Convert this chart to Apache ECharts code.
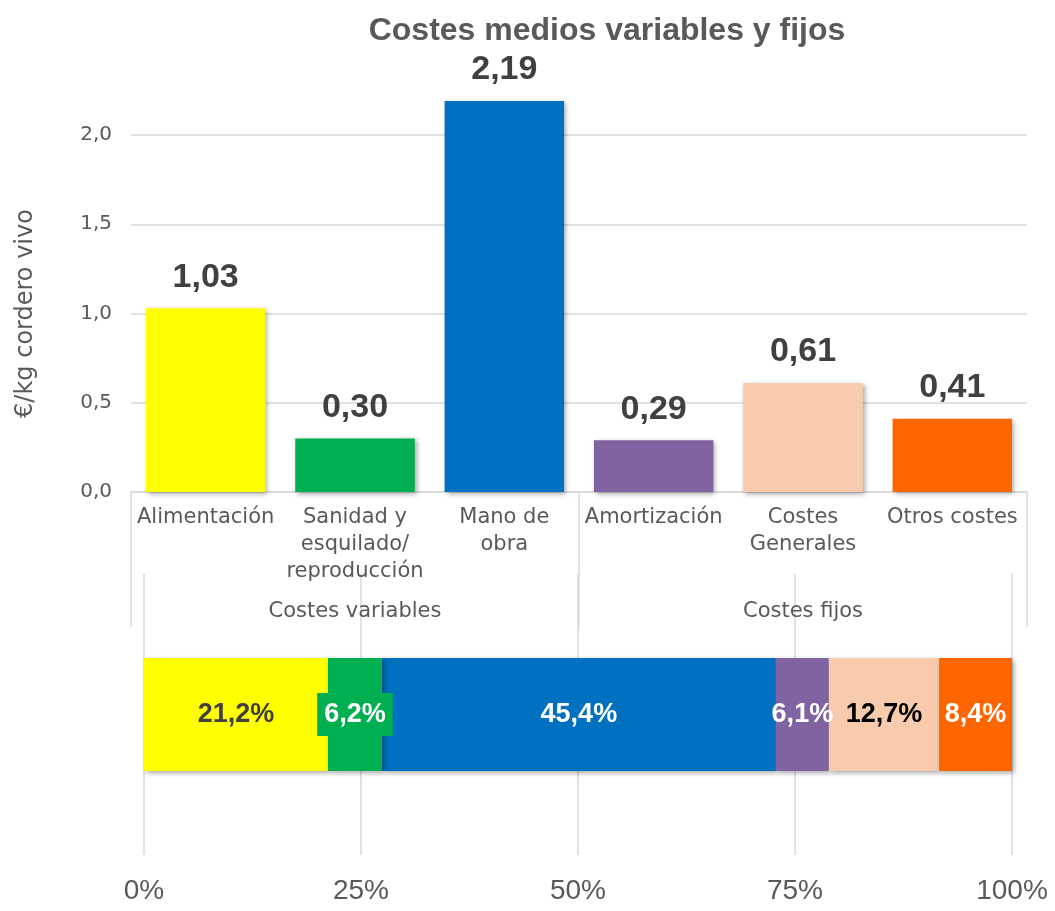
<!DOCTYPE html>
<html><head><meta charset="utf-8">
<script src="https://cdn.jsdelivr.net/npm/echarts@6/dist/echarts.min.js"></script>
<style>html,body{margin:0;padding:0;background:#fff}#c{width:1055px;height:911px}</style>
</head><body><div id="c"></div>
<script>
const categories = ['Alimentación', 'Sanidad y\nesquilado/\nreproducción', 'Mano de\nobra', 'Amortización', 'Costes\nGenerales', 'Otros costes'];
const groups = ['Costes variables', 'Costes fijos'];
const costValues = [1.03, 0.30, 2.19, 0.29, 0.61, 0.41];
const sharePercent = [21.2, 6.2, 45.4, 6.1, 12.7, 8.4];
const yTicks = [0, 0.5, 1.0, 1.5, 2.0];
const pctTicks = [0, 25, 50, 75, 100];
const colors = ['#FFFF00', '#00B050', '#0070C0', '#8064A2', '#F8CBAD', '#FF6600'];
const pctLabelColors = ['#404040', '#ffffff', '#ffffff', '#ffffff', '#000000', '#ffffff'];

const REG = 'DejaVu Sans';
const BOLD = 'Liberation Sans';
const grey = '#595959';
const lineGrey = '#d9d9d9';
const shadow = {shadowBlur: 5, shadowColor: 'rgba(0,0,0,0.35)', shadowOffsetX: 2, shadowOffsetY: 2};

const chart = echarts.init(document.getElementById('c'), null, {renderer: 'canvas'});

const stackSeries = sharePercent.map((p, i) => {
  const lab = {
    show: true, position: 'inside', fontFamily: BOLD, fontWeight: 'bold', fontSize: 27,
    color: pctLabelColors[i],
    formatter: (d) => d.value.toFixed(1).replace('.', ',') + '%'
  };
  if (i === 1) { lab.backgroundColor = colors[1]; lab.padding = [9, 7, 7, 7]; }
  return {
    type: 'bar', name: categories[i].replace(/\n/g, ' '), stack: 'share',
    xAxisIndex: 2, yAxisIndex: 1, barWidth: 113,
    data: [p],
    itemStyle: Object.assign({color: colors[i]}, shadow),
    label: lab, z: i === 1 ? 5 : 2
  };
});

chart.setOption({
  animation: false,
  backgroundColor: '#ffffff',
  title: {
    text: 'Costes medios variables y fijos', left: 602, top: 10, textAlign: 'center',
    textStyle: {fontFamily: BOLD, fontWeight: 'bold', fontSize: 32, color: grey}
  },
  grid: [
    {left: 131, right: 28, top: 135, height: 357},
    {left: 144, right: 43, top: 574, height: 281}
  ],
  xAxis: [
    {
      gridIndex: 0, type: 'category', data: categories, position: 'bottom',
      axisLine: {show: true, lineStyle: {color: lineGrey, width: 1.5}},
      axisTick: {show: true, length: 135, lineStyle: {color: lineGrey, width: 1.5},
        interval: (idx) => idx % 3 === 0},
      axisLabel: {interval: 0, margin: 12, fontFamily: REG, fontSize: 21, lineHeight: 27, color: grey}
    },
    {
      gridIndex: 0, type: 'category', data: groups, position: 'bottom', offset: 100,
      axisLine: {show: false}, axisTick: {show: false},
      axisLabel: {interval: 0, margin: 9, fontFamily: REG, fontSize: 21, color: grey}
    },
    {
      gridIndex: 1, type: 'value', min: pctTicks[0], max: pctTicks[pctTicks.length - 1],
      interval: pctTicks[1] - pctTicks[0],
      axisLine: {show: false}, axisTick: {show: false},
      splitLine: {show: true, lineStyle: {color: lineGrey, width: 1.5}},
      axisLabel: {margin: 22, fontFamily: BOLD, fontSize: 28, color: grey, formatter: '{value}%'}
    }
  ],
  yAxis: [
    {
      gridIndex: 0, type: 'value', min: yTicks[0], max: yTicks[yTicks.length - 1],
      interval: yTicks[1] - yTicks[0],
      name: '€/kg cordero vivo', nameLocation: 'middle', nameGap: 93,
      nameTextStyle: {fontFamily: REG, fontSize: 24, color: grey},
      axisLine: {show: false}, axisTick: {show: false},
      splitLine: {show: true, lineStyle: {color: lineGrey, width: 1.5}},
      axisLabel: {margin: 19, fontFamily: REG, fontSize: 20, color: grey,
        formatter: (v) => v.toFixed(1).replace('.', ',')}
    },
    {
      gridIndex: 1, type: 'category', data: [''],
      axisLine: {show: false}, axisTick: {show: false}, axisLabel: {show: false}
    }
  ],
  series: [
    {
      type: 'bar', name: 'Coste', xAxisIndex: 0, yAxisIndex: 0,
      barCategoryGap: '20%', clip: false,
      data: costValues.map((v, i) => ({value: v, itemStyle: Object.assign({color: colors[i]}, shadow)})),
      label: {
        show: true, position: 'top', distance: 14, fontFamily: BOLD, fontWeight: 'bold',
        fontSize: 34, color: '#404040',
        formatter: (d) => d.value.toFixed(2).replace('.', ',')
      }
    }
  ].concat(stackSeries)
});
</script></body></html>
